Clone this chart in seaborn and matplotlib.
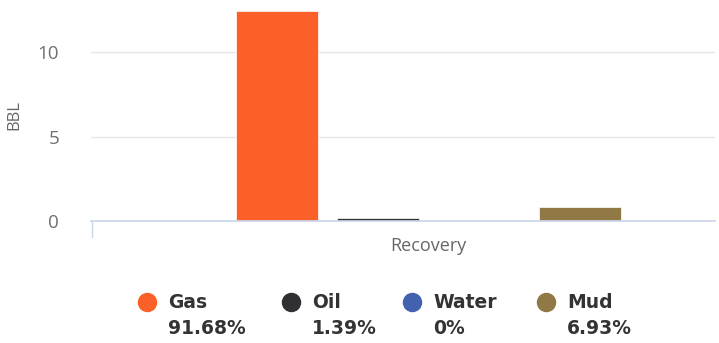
import matplotlib
matplotlib.use("Agg")
import matplotlib.pyplot as plt
import seaborn as sns
import pandas as pd
from matplotlib.lines import Line2D

categories = ["Recovery"]
series = ["Gas", "Oil", "Water", "Mud"]
values = [12.45, 0.19, 0.0, 0.8]
percents = ["91.68%", "1.39%", "0%", "6.93%"]
colors = ["#FA6027", "#303033", "#4262B0", "#907944"]
y_ticks = [0, 5, 10]

df = pd.DataFrame({"category": categories * len(series), "series": series, "value": values})

sns.set_theme(style="white")
plt.rcParams["font.family"] = ["Open Sans", "DejaVu Sans"]

fig = plt.figure(figsize=(7.19, 3.43), dpi=100)
ax = fig.add_axes([91 / 719, 122 / 343, 624 / 719, 211 / 343])

sns.barplot(data=df, x="category", y="value", hue="series", hue_order=series,
            palette=colors, saturation=1, width=0.8, gap=0.19, ax=ax, legend=False,
            edgecolor="white", linewidth=0.5)

ax.set_xlim(-0.668, 0.567)
ax.set_ylim(0, 12.5)
ax.set_yticks(y_ticks)
ax.yaxis.grid(True, color="#e6e6e6", linewidth=1)
ax.set_axisbelow(True)
for s in ["top", "right", "left"]:
    ax.spines[s].set_visible(False)
ax.spines["bottom"].set_color("#ccd6eb")
ax.tick_params(axis="y", length=0, pad=23, labelsize=13.5, labelcolor="#707070")
ax.set_xticks([0.0], labels=[""])
ax.tick_params(axis="x", length=0)
ax.set_xlabel("")
ax.set_ylabel("BBL", fontsize=12, color="#666666", labelpad=11)
ax.text(0.0, -0.075, "Recovery", transform=ax.get_xaxis_transform(), ha="center",
        va="top", fontsize=13, color="#666666")
# category boundary tick at left edge
ax.plot([-0.667, -0.667], [0, -0.075], transform=ax.get_xaxis_transform(),
        color="#ccd6eb", lw=1, clip_on=False)

marker_x = [147, 291, 412, 546]
for xm, name, pct, c in zip(marker_x, series, percents, colors):
    fig.add_artist(Line2D([xm / 719], [1 - 302 / 343], marker="o", markersize=13,
                          color=c, linestyle="none", transform=fig.transFigure))
    fig.text((xm + 21) / 719, 1 - 302 / 343, name, fontsize=13.5, fontweight="bold",
             color="#333333", va="center", ha="left", family="DejaVu Sans")
    fig.text((xm + 21) / 719, 1 - 329 / 343, pct, fontsize=13.5, fontweight="bold",
             color="#333333", va="center", ha="left", family="DejaVu Sans")

fig.savefig("out.png", dpi=100)
